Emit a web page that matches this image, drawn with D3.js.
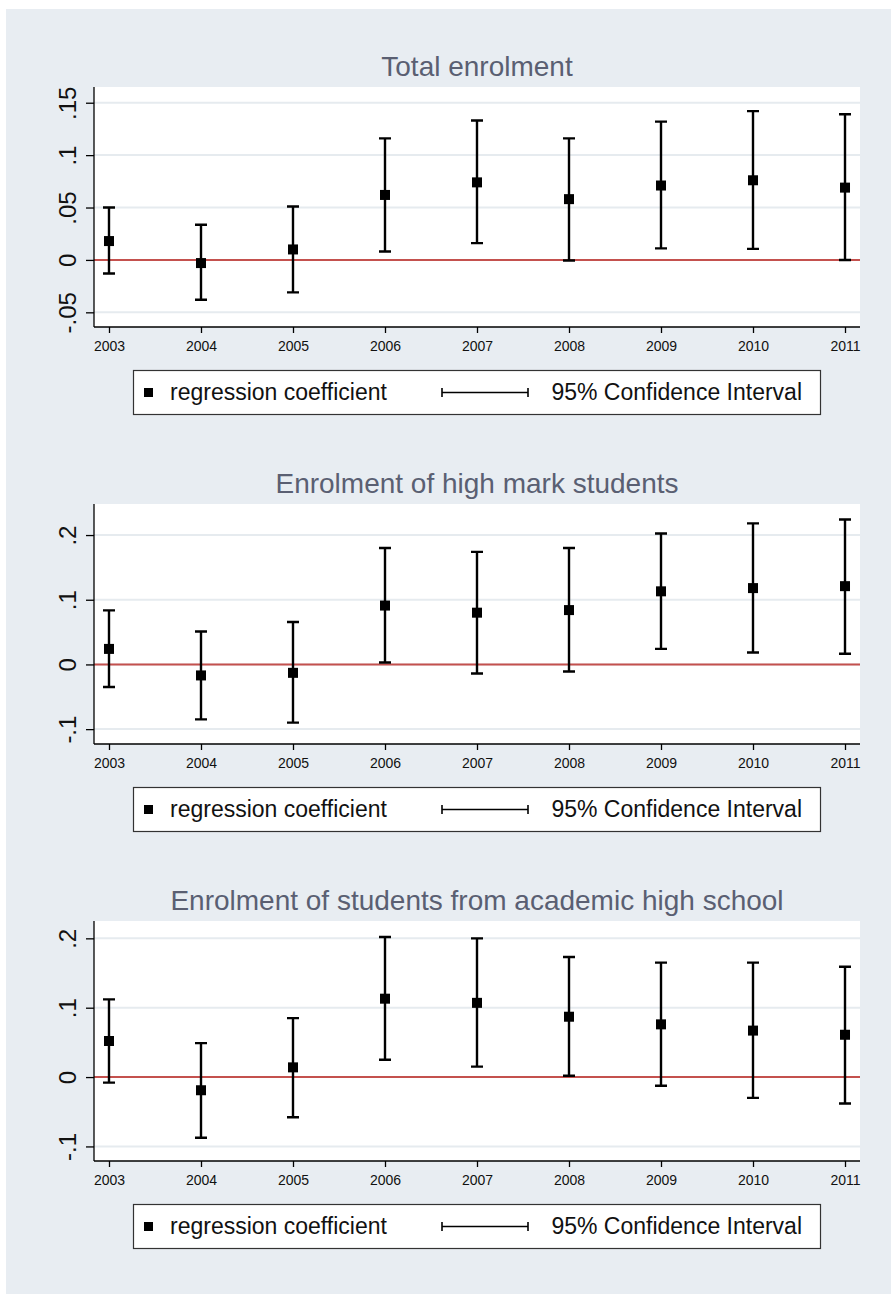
<!DOCTYPE html>
<html>
<head>
	<meta charset="utf-8">
	<title>Enrolment coefficients</title>
	<script src="https://d3js.org/d3.v7.min.js"></script>
	<style>
		body { margin: 0; background: #ffffff; }
		svg text { font-family: "Liberation Sans", Arial, sans-serif; }
	</style>
</head>
<body>
	<div id="chart"></div>
	<script>
		// data
		const years = [2003, 2004, 2005, 2006, 2007, 2008, 2009, 2010, 2011]
		const titles = ["Total enrolment", "Enrolment of high mark students", "Enrolment of students from academic high school"]

		const coefTotal = [0.018, -0.003, 0.010, 0.062, 0.074, 0.058, 0.071, 0.076, 0.069]
		const loTotal   = [-0.013, -0.038, -0.031, 0.008, 0.016, -0.0005, 0.011, 0.0105, 0.0]
		const hiTotal   = [0.050, 0.0335, 0.051, 0.116, 0.133, 0.116, 0.132, 0.142, 0.139]

		const coefHigh = [0.024, -0.017, -0.013, 0.091, 0.080, 0.084, 0.113, 0.118, 0.121]
		const loHigh   = [-0.035, -0.085, -0.090, 0.003, -0.014, -0.011, 0.024, 0.0185, 0.0165]
		const hiHigh   = [0.0835, 0.051, 0.0655, 0.180, 0.174, 0.180, 0.2025, 0.218, 0.224]

		const coefAcad = [0.052, -0.019, 0.014, 0.113, 0.107, 0.087, 0.076, 0.067, 0.061]
		const loAcad   = [-0.008, -0.0875, -0.058, 0.025, 0.015, 0.002, -0.0125, -0.030, -0.038]
		const hiAcad   = [0.112, 0.049, 0.085, 0.202, 0.200, 0.173, 0.165, 0.165, 0.159]

		// y axis ticks and their labels
		const ticksTotal = [-0.05, 0, 0.05, 0.1, 0.15]
		const labelsTotal = ["-.05", "0", ".05", ".1", ".15"]
		const ticksOther = [-0.1, 0, 0.1, 0.2]
		const labelsOther = ["-.1", "0", ".1", ".2"]

		const yDomains = [[-0.064, 0.165], [-0.123, 0.248], [-0.121, 0.225]]

		const legendLabels = ["regression coefficient", "95% Confidence Interval"]

		const panels = [
			{title: titles[0], coef: coefTotal, lo: loTotal, hi: hiTotal, ticks: ticksTotal, labels: labelsTotal, domain: yDomains[0]},
			{title: titles[1], coef: coefHigh, lo: loHigh, hi: hiHigh, ticks: ticksOther, labels: labelsOther, domain: yDomains[1]},
			{title: titles[2], coef: coefAcad, lo: loAcad, hi: hiAcad, ticks: ticksOther, labels: labelsOther, domain: yDomains[2]}
		]

		const W = 891, H = 1294
		const svg = d3.select("#chart").append("svg")
			.attr("width", W).attr("height", H)

		// gray graph region
		svg.append("rect")
			.attr("x", 6).attr("y", 9)
			.attr("width", W - 6).attr("height", H - 9)
			.attr("fill", "#e8edf2")

		const plotLeft = 94, plotRight = 860, plotH = 240
		const x = d3.scaleLinear().domain([2002.837, 2011.163]).range([plotLeft, plotRight])

		panels.forEach((p, i) => {
			const top = 87 + 417 * i
			const bottom = top + plotH
			const y = d3.scaleLinear().domain(p.domain).range([bottom, top])
			const g = svg.append("g")

			// white plot region
			g.append("rect")
				.attr("x", plotLeft).attr("y", top)
				.attr("width", plotRight - plotLeft).attr("height", plotH)
				.attr("fill", "#ffffff")

			// grid lines
			g.selectAll(".grid")
				.data(p.ticks)
				.enter().append("line")
				.attr("x1", plotLeft).attr("x2", plotRight)
				.attr("y1", d => y(d)).attr("y2", d => y(d))
				.attr("stroke", "#e6ebef").attr("stroke-width", 2)

			// red zero line
			g.append("line")
				.attr("x1", plotLeft).attr("x2", plotRight)
				.attr("y1", y(0)).attr("y2", y(0))
				.attr("stroke", "#c4514e").attr("stroke-width", 2)

			// title
			g.append("text")
				.attr("x", (plotLeft + plotRight) / 2)
				.attr("y", top - 11)
				.attr("text-anchor", "middle")
				.attr("font-size", 28)
				.attr("fill", "#5a5f72")
				.text(p.title)

			// y axis
			const yAxis = d3.axisLeft(y)
				.tickValues(p.ticks)
				.tickFormat((d, k) => p.labels[k])
				.tickSize(8)
				.tickPadding(0)
			const ya = g.append("g")
				.attr("transform", "translate(" + plotLeft + ",0)")
				.call(yAxis)
			ya.select(".domain").attr("stroke", "#000").attr("stroke-width", 1.3)
				.attr("d", "M0," + top + "V" + bottom)
			ya.selectAll(".tick line").attr("stroke", "#000").attr("stroke-width", 1.3)
			ya.selectAll(".tick text")
				.attr("x", 0).attr("y", 0).attr("dy", null)
				.attr("text-anchor", "middle")
				.attr("transform", "translate(-18,0) rotate(-90)")
				.attr("font-size", 24)
				.attr("fill", "#111")

			// x axis
			const xAxis = d3.axisBottom(x)
				.tickValues(years)
				.tickFormat(d3.format("d"))
				.tickSize(6)
				.tickPadding(4)
			const xa = g.append("g")
				.attr("transform", "translate(0," + bottom + ")")
				.call(xAxis)
			xa.select(".domain").attr("stroke", "#000").attr("stroke-width", 1.3)
				.attr("d", "M" + plotLeft + ",0H" + plotRight)
			xa.selectAll(".tick line").attr("stroke", "#000").attr("stroke-width", 1.3)
			xa.selectAll(".tick text")
				.attr("font-size", 14)
				.attr("fill", "#111")
				.attr("y", 14).attr("dy", "0.71em")

			// confidence intervals
			const rows = years.map((yr, k) => ({yr, c: p.coef[k], lo: p.lo[k], hi: p.hi[k]}))
			const cap = 6
			g.selectAll(".ci")
				.data(rows)
				.enter().append("path")
				.attr("d", d => "M" + x(d.yr) + "," + y(d.lo) + "V" + y(d.hi)
					+ "M" + (x(d.yr) - cap) + "," + y(d.hi) + "H" + (x(d.yr) + cap)
					+ "M" + (x(d.yr) - cap) + "," + y(d.lo) + "H" + (x(d.yr) + cap))
				.attr("stroke", "#000").attr("stroke-width", 2.4).attr("fill", "none")

			// coefficients
			const sq = 10
			g.selectAll(".pt")
				.data(rows)
				.enter().append("rect")
				.attr("x", d => x(d.yr) - sq / 2)
				.attr("y", d => y(d.c) - sq / 2)
				.attr("width", sq).attr("height", sq)
				.attr("fill", "#000")

			// legend
			const ly = bottom + 43
			const lg = g.append("g").attr("transform", "translate(0," + ly + ")")
			lg.append("rect")
				.attr("x", 133.5).attr("y", 0.5)
				.attr("width", 687).attr("height", 44)
				.attr("fill", "#fff").attr("stroke", "#333").attr("stroke-width", 1.2)
			lg.append("rect")
				.attr("x", 144).attr("y", 18)
				.attr("width", 9).attr("height", 9)
				.attr("fill", "#000")
			lg.append("text")
				.attr("x", 170).attr("y", 30)
				.attr("font-size", 23).attr("fill", "#111")
				.text(legendLabels[0])
			lg.append("path")
				.attr("d", "M442,22.5H528M442,18V27M528,18V27")
				.attr("stroke", "#000").attr("stroke-width", 1.6).attr("fill", "none")
			lg.append("text")
				.attr("x", 802).attr("y", 30)
				.attr("text-anchor", "end")
				.attr("font-size", 23).attr("fill", "#111")
				.text(legendLabels[1])
		})
	</script>
</body>
</html>
